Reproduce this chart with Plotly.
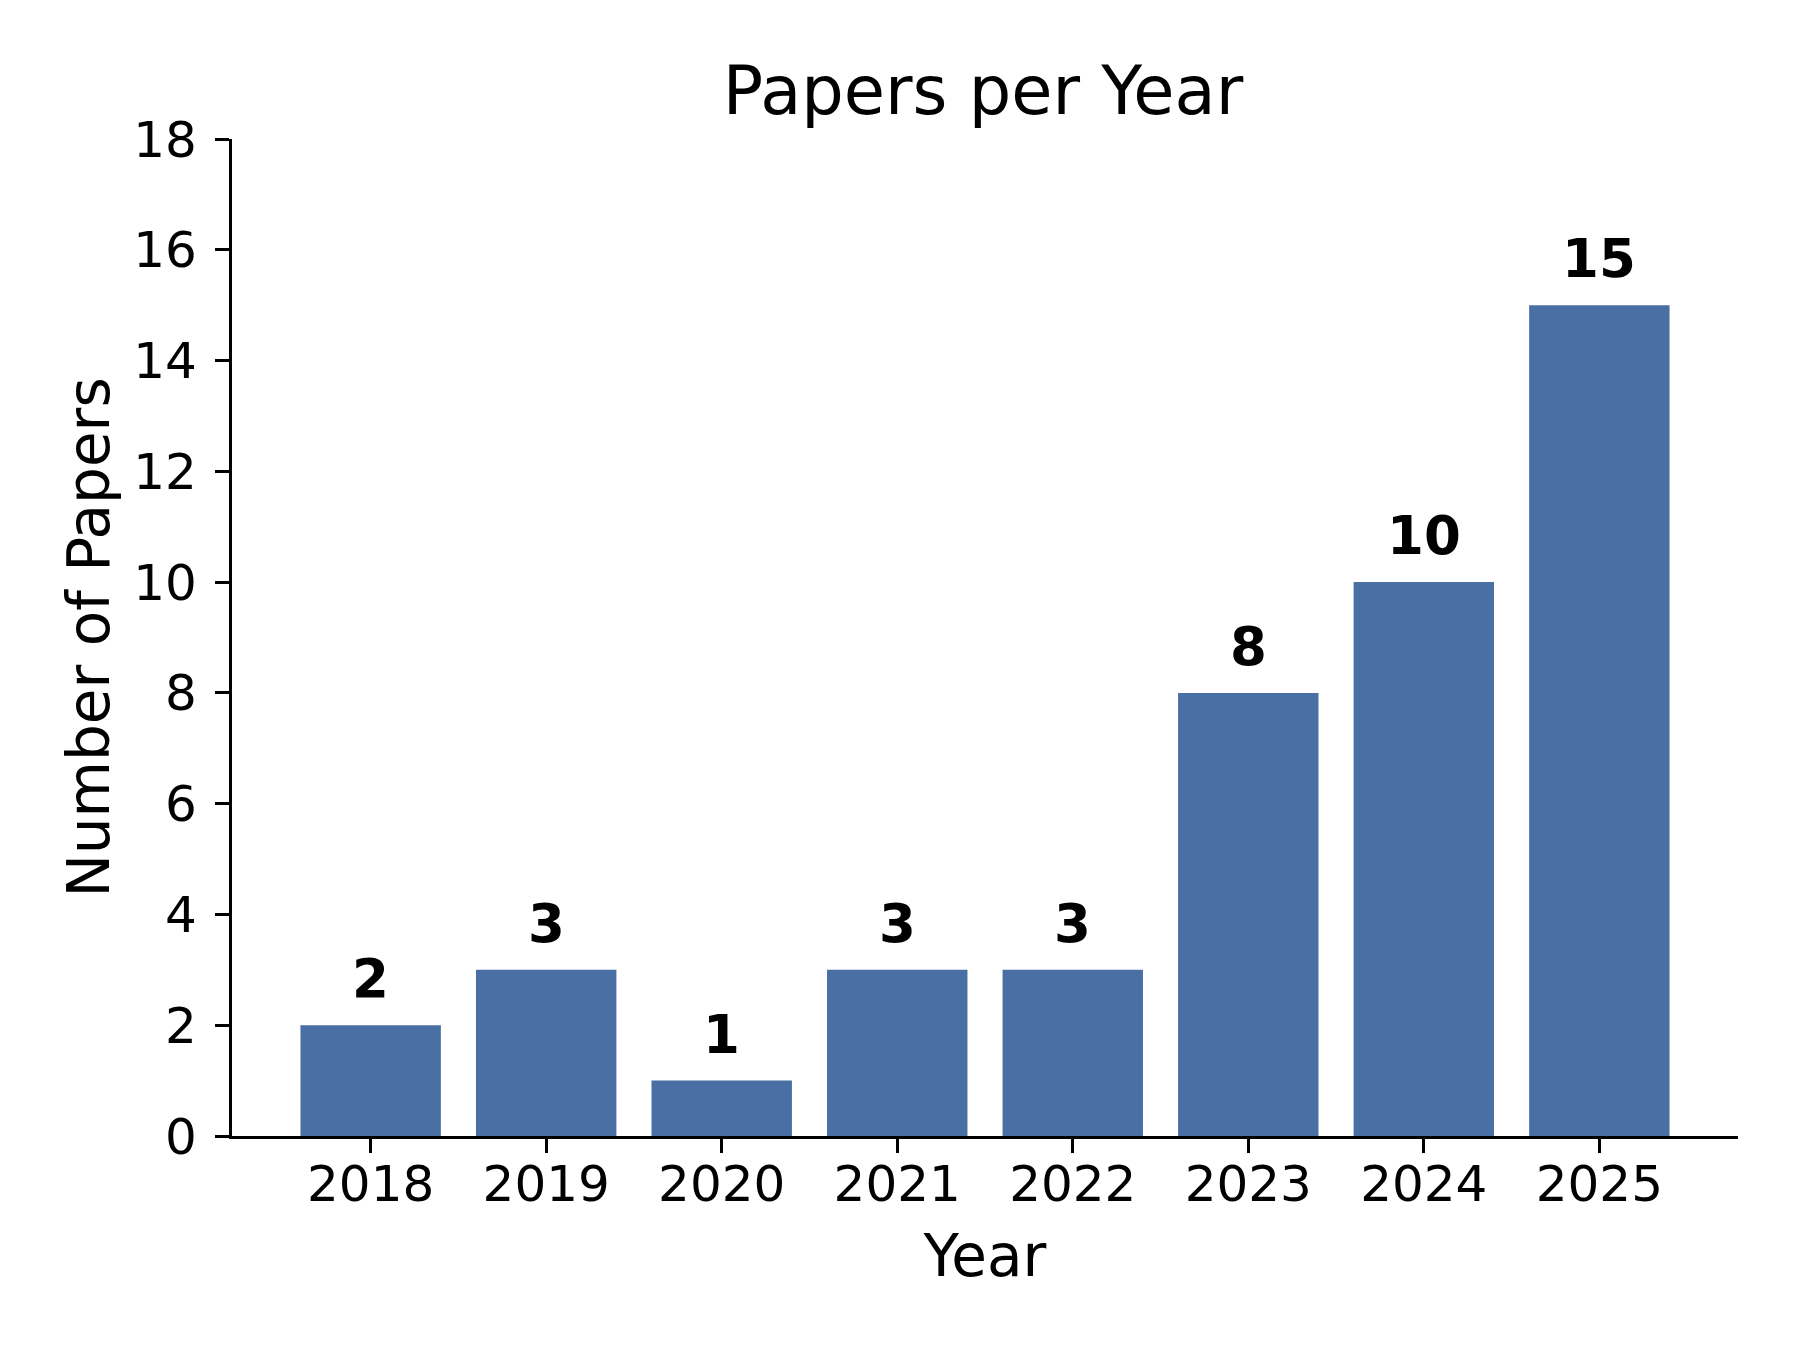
import plotly.graph_objects as go

years = ["2018", "2019", "2020", "2021", "2022", "2023", "2024", "2025"]
papers = [2, 3, 1, 3, 3, 8, 10, 15]
y_ticks = [0, 2, 4, 6, 8, 10, 12, 14, 16, 18]

bar_color = "#4a6fa5"
font = "DejaVu Sans"

fig = go.Figure(go.Bar(x=years, y=papers, width=0.8,
                       marker=dict(color=bar_color, line=dict(width=0))))

# value labels above bars (x given as category index)
for i, n in enumerate(papers):
    fig.add_annotation(x=i, y=n, xref="x", yref="y", text="<b>%d</b>" % n,
                       showarrow=False, yanchor="bottom", yshift=14,
                       font=dict(family=font, size=53, color="black"))

fig.update_layout(
    width=1800, height=1350,
    margin=dict(l=224, r=70, t=131, b=222),
    plot_bgcolor="white", paper_bgcolor="white",
    showlegend=False,
    title=dict(text="Papers per Year", x=(224 + 1730) / 2 / 1800 - 2 / 1800, xanchor="center",
               y=1 - 106 / 1350, yanchor="bottom",
               font=dict(family=font, size=67, color="black")),
    font=dict(family=font, color="black"),
)

fig.update_xaxes(
    type="category",
    range=[-0.79, 7.79],
    showline=True, linecolor="black", linewidth=3.3,
    ticks="outside", ticklen=14, tickwidth=3.3, tickcolor="black",
    tickfont=dict(family=font, size=50, color="black"),
    ticklabelstandoff=-12,
    showgrid=False, zeroline=False, automargin=False,
    title=dict(text="Year", font=dict(family=font, size=58, color="black"), standoff=24),
)

fig.update_yaxes(
    range=[0, 18], tickvals=y_ticks,
    showline=True, linecolor="black", linewidth=3.3,
    ticks="outside", ticklen=14, tickwidth=3.3, tickcolor="black",
    tickfont=dict(family=font, size=50, color="black"),
    ticklabelstandoff=8,
    showgrid=False, zeroline=False, automargin=False,
    title=dict(text="Number of Papers", font=dict(family=font, size=58, color="black"), standoff=5),
)

fig.write_html("out.html")
